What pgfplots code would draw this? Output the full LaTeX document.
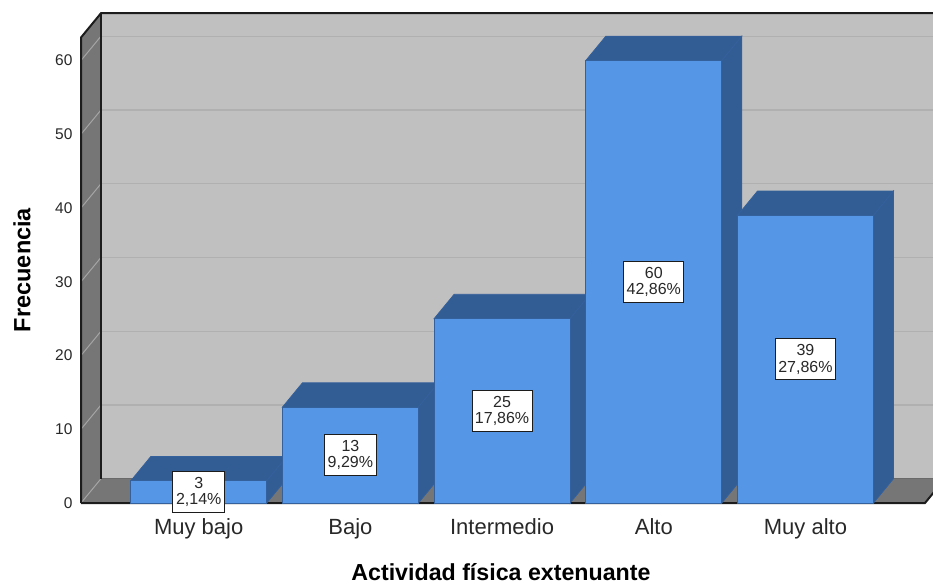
\documentclass[border=0pt]{standalone}
\usepackage{fontspec}
\setmainfont{Liberation Sans}
\usepackage{pgfplots}
\pgfplotsset{compat=1.18}
\definecolor{wallback}{RGB}{192,192,192}
\definecolor{wallside}{RGB}{118,118,118}
\definecolor{gridback}{RGB}{176,176,176}
\definecolor{gridside}{RGB}{165,165,165}
\definecolor{barfront}{RGB}{85,150,230}
\definecolor{bartop}{RGB}{50,93,148}
\definecolor{barline}{RGB}{52,96,155}
\definecolor{framedark}{RGB}{28,28,28}
\definecolor{labeltext}{RGB}{40,40,40}
\tikzset{valuebox/.style={draw=framedark,line width=1.1pt,fill=white,align=center,
  inner sep=0pt,minimum width=#1,minimum height=41pt,font=\fontsize{16}{16.5}\selectfont,text=labeltext}}
\pgfplotsset{
  barface/.style={fill=#1,draw=barline,line width=0.8pt},
  frameline/.style={draw=framedark,line width=2pt},
}
\begin{document}
\begin{tikzpicture}
\useasboundingbox (0,0) rectangle (933pt,583pt);
\clip (0,0) rectangle (933pt,583pt);
\begin{axis}[
  at={(81pt,80pt)}, anchor=south west,
  width=844pt, height=465.5pt, scale only axis,
  xmin=-0.776, xmax=4.788, ymin=0, ymax=63.12,
  clip=false,
  axis line style={draw=none},
  major tick length=0pt,
  xtick={0,1,2,3,4},
  xticklabels={Muy bajo,Bajo,Intermedio,Alto,Muy alto},
  ytick={0,10,20,30,40,50,60},
  /pgf/number format/assume math mode=true,
  tick label style={text=labeltext},
  xticklabel style={font=\fontsize{22}{24}\selectfont,anchor=base,yshift=-31pt},
  yticklabel style={font=\fontsize{15.5}{18}\selectfont,anchor=east,xshift=-5pt},
  xlabel={Actividad física extenuante},
  ylabel={Frecuencia},
  xlabel style={font=\bfseries\fontsize{23.2}{24}\selectfont,text=black,inner sep=0pt,
    at={(axis description cs:0.4976,-0.1665)},anchor=base},
  ylabel style={font=\bfseries\fontsize{23.5}{24}\selectfont,text=black,
    at={(axis description cs:-0.0699,0.5005)},anchor=center,rotate=0},
]
% Walls and floor of the box
\addplot[fill=wallback,draw=none] coordinates {(-0.644,3.3) (4.920,3.3) (4.920,66.42) (-0.644,66.42)} -- cycle;
\addplot[fill=wallside,draw=none] coordinates {(-0.776,0) (-0.644,3.3) (-0.644,66.42) (-0.776,63.12)} -- cycle;
\addplot[fill=wallside,draw=none] coordinates {(-0.776,0) (4.788,0) (4.920,3.3) (-0.644,3.3)} -- cycle;
% Gridlines across the back wall and down the side wall
\pgfplotsinvokeforeach{10,20,30,40,50,60}{
  \addplot[gridback,line width=1.2pt] coordinates {(-0.644,#1+3.3) (4.920,#1+3.3)};
  \addplot[gridside,line width=1pt] coordinates {(-0.776,#1) (-0.644,#1+3.3)};
}
\addplot[gridside,line width=1pt] coordinates {(-0.776,0) (-0.644,3.3)};
% Box edges
\addplot[gridback!60!black,line width=1pt] coordinates {(-0.644,3.3) (4.920,3.3)};
\addplot[frameline] coordinates {(-0.776,0) (-0.776,63.12) (-0.644,66.42) (4.920,66.42)};
\addplot[frameline] coordinates {(-0.644,3.3) (-0.644,66.42)};
\addplot[frameline] coordinates {(-0.776,0) (4.788,0) (4.920,3.3)};
% Bars, left to right so each front hides the previous side face
\addplot[barface=bartop] coordinates {(0.448,0) (0.580,3.3) (0.580,6.3) (0.448,3)} -- cycle;
\addplot[barface=bartop] coordinates {(-0.448,3) (0.448,3) (0.580,6.3) (-0.316,6.3)} -- cycle;
\addplot[ybar,bar shift=0pt,bar width=136pt,barface=barfront] coordinates {(0,3)};
\addplot[barface=bartop] coordinates {(1.448,0) (1.580,3.3) (1.580,16.3) (1.448,13)} -- cycle;
\addplot[barface=bartop] coordinates {(0.552,13) (1.448,13) (1.580,16.3) (0.684,16.3)} -- cycle;
\addplot[ybar,bar shift=0pt,bar width=136pt,barface=barfront] coordinates {(1,13)};
\addplot[barface=bartop] coordinates {(2.448,0) (2.580,3.3) (2.580,28.3) (2.448,25)} -- cycle;
\addplot[barface=bartop] coordinates {(1.552,25) (2.448,25) (2.580,28.3) (1.684,28.3)} -- cycle;
\addplot[ybar,bar shift=0pt,bar width=136pt,barface=barfront] coordinates {(2,25)};
\addplot[barface=bartop] coordinates {(3.448,0) (3.580,3.3) (3.580,63.3) (3.448,60)} -- cycle;
\addplot[barface=bartop] coordinates {(2.552,60) (3.448,60) (3.580,63.3) (2.684,63.3)} -- cycle;
\addplot[ybar,bar shift=0pt,bar width=136pt,barface=barfront] coordinates {(3,60)};
\addplot[barface=bartop] coordinates {(4.448,0) (4.580,3.3) (4.580,42.3) (4.448,39)} -- cycle;
\addplot[barface=bartop] coordinates {(3.552,39) (4.448,39) (4.580,42.3) (3.684,42.3)} -- cycle;
\addplot[ybar,bar shift=0pt,bar width=136pt,barface=barfront] coordinates {(4,39)};
% Count and share at the middle of each bar
\node[valuebox=52pt] at (axis cs:0,1.5) {3\\2,14\%};
\node[valuebox=52pt] at (axis cs:1,6.5) {13\\9,29\%};
\node[valuebox=60pt] at (axis cs:2,12.5) {25\\17,86\%};
\node[valuebox=60pt] at (axis cs:3,30) {60\\42,86\%};
\node[valuebox=60pt] at (axis cs:4,19.5) {39\\27,86\%};
\end{axis}
\end{tikzpicture}
\end{document}
